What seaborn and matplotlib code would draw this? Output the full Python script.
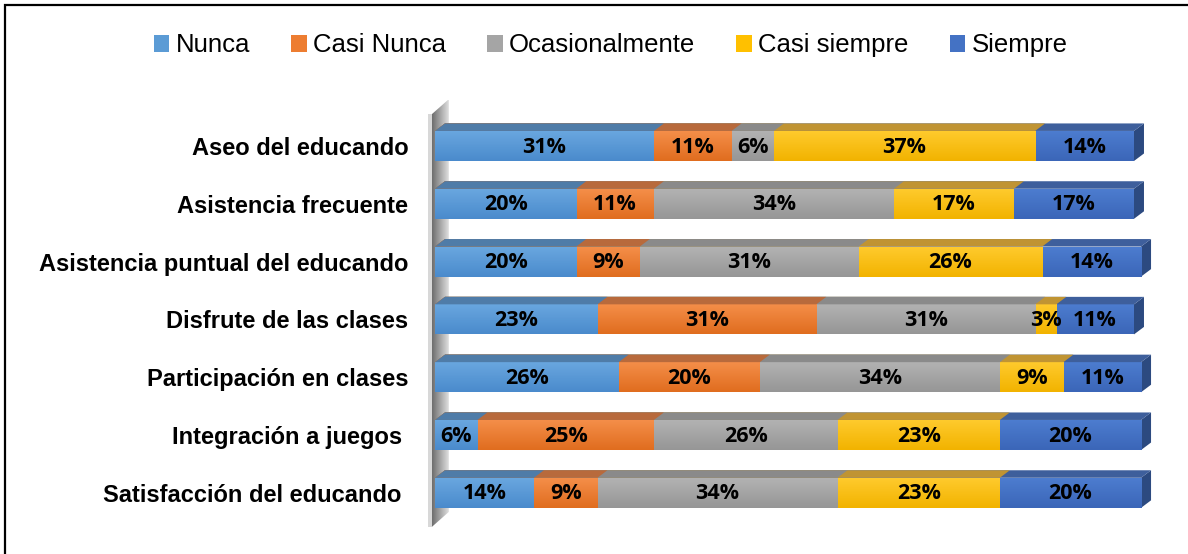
import numpy as np
import pandas as pd
import seaborn as sns
import matplotlib.pyplot as plt
from matplotlib.colors import LinearSegmentedColormap
from matplotlib.patches import Polygon, Rectangle

categories = ["Aseo del educando", "Asistencia frecuente", "Asistencia puntual del educando",
              "Disfrute de las clases", "Participación en clases", "Integración a juegos ",
              "Satisfacción del educando "]
series = ["Nunca", "Casi Nunca", "Ocasionalmente", "Casi siempre", "Siempre"]
nunca = [31, 20, 20, 23, 26, 6, 14]
casi_nunca = [11, 11, 9, 31, 20, 25, 9]
ocasional = [6, 34, 31, 31, 34, 26, 34]
casi_siempre = [37, 17, 26, 3, 9, 23, 23]
siempre = [14, 17, 14, 11, 11, 20, 20]

# front, top-face, gradient light/dark
front = ["#5b9bd5", "#ed7d31", "#a5a5a5", "#ffc000", "#4472c4"]
light = ["#6aa8e0", "#f58f4a", "#b3b3b3", "#ffcb2e", "#4d7dd0"]
dark = ["#4a8acc", "#e06d1f", "#969696", "#f2b300", "#3b66b8"]
topc = ["#4f7ca8", "#b86a3c", "#8a8a8a", "#c09433", "#3e5f9c"]
side_col = "#2c4a80"

df = pd.DataFrame({"cat": categories, "Nunca": nunca, "Casi Nunca": casi_nunca,
                   "Ocasionalmente": ocasional, "Casi siempre": casi_siempre,
                   "Siempre": siempre})
cum = df[series].cumsum(axis=1)

fig = plt.figure(figsize=(11.88, 5.54), dpi=100)
ax = fig.add_axes([0.3543, 0.027, 0.624, 0.793])

dx = 10 / 7.06
dy = 7.5 / 57.8
bar_h = 0.52

# wall
ax.add_patch(Rectangle((-1.0, -0.55), 0.55, 7.14, facecolor="#d8d8d8", edgecolor="none", zorder=1))
wall = Polygon([(-0.45, -0.55), (-0.45 + 17 / 7.06, -0.55 - 0.26), (-0.45 + 17 / 7.06, 6.59 - 0.26),
                (-0.45, 6.59)], closed=True, facecolor="none", edgecolor="none", zorder=1)
ax.add_patch(wall)
wg = ax.imshow(np.linspace(0, 1, 50).reshape(1, -1), cmap=LinearSegmentedColormap.from_list("w", ["#6e6e6e", "#e6e6e6"]),
               extent=(-0.45, -0.45 + 17 / 7.06, 6.59, -0.81), aspect="auto", zorder=1)
wg.set_clip_path(wall)

handles = []
for k in range(len(series) - 1, -1, -1):
    tmp = pd.DataFrame({"cat": categories, "val": cum[series[k]].values})
    n_before = len(ax.patches)
    sns.barplot(data=tmp, y="cat", x="val", orient="h", color=front[k], width=bar_h,
                ax=ax, saturation=1, zorder=2 + k)
    for p in ax.patches[n_before:]:
        x0, y0 = p.get_x(), p.get_y()
        w, h = p.get_width(), p.get_height()
        p.set_zorder(3 + 2 * (5 - k))
        grad = ax.imshow(np.linspace(0, 1, 50).reshape(-1, 1),
                         cmap=LinearSegmentedColormap.from_list("g%d" % k, [light[k], dark[k]]),
                         extent=(x0, x0 + w, y0 + h, y0), aspect="auto", zorder=3 + 2 * (5 - k))
        grad.set_clip_path(p)
        ax.add_patch(Polygon([(x0, y0), (x0 + w, y0), (x0 + w + dx, y0 - dy), (x0 + dx, y0 - dy)],
                             closed=True, facecolor=topc[k], edgecolor="none", zorder=3 + 2 * (5 - k)))
        if k == len(series) - 1:
            ax.add_patch(Polygon([(x0 + w, y0), (x0 + w + dx, y0 - dy), (x0 + w + dx, y0 + h - dy),
                                  (x0 + w, y0 + h)], closed=True, facecolor=side_col,
                                 edgecolor="none", zorder=3))
    handles.append(Rectangle((0, 0), 1, 1, facecolor=front[k], edgecolor="none", label=series[k]))

# labels
vals = df[series].values
for i in range(len(categories)):
    start = 0
    for k in range(len(series)):
        v = vals[i, k]
        ax.text(start + v / 2, i + 0.02, "%d%%" % v, ha="center", va="center", fontsize=15.5,
                fontweight="bold", family="Open Sans", color="black", zorder=30)
        start += v

ax.set_xlim(-2, 103)
ax.set_ylim(6.8, -0.8)
for s in ax.spines.values():
    s.set_visible(False)
ax.set_xticks([])
ax.set_xlabel("")
ax.set_ylabel("")
ax.tick_params(axis="y", length=0, pad=9)
for t in ax.get_yticklabels():
    t.set_fontsize(17)
    t.set_fontweight("bold")
    t.set_family("Liberation Sans")

fig.legend(handles=handles[::-1], loc="center", bbox_to_anchor=(0.514, 0.918), ncol=5, frameon=False,
           prop={"family": "Liberation Sans", "size": 18.5}, handlelength=0.6, handleheight=0.6,
           handletextpad=0.25, columnspacing=1.6)

fig.patches.append(Rectangle((5 / 1188, -0.05), 1.2, 1 - 5 / 554 + 0.05, transform=fig.transFigure,
                             fill=False, edgecolor="black", linewidth=1.6))

fig.savefig("out.png", dpi=100)
